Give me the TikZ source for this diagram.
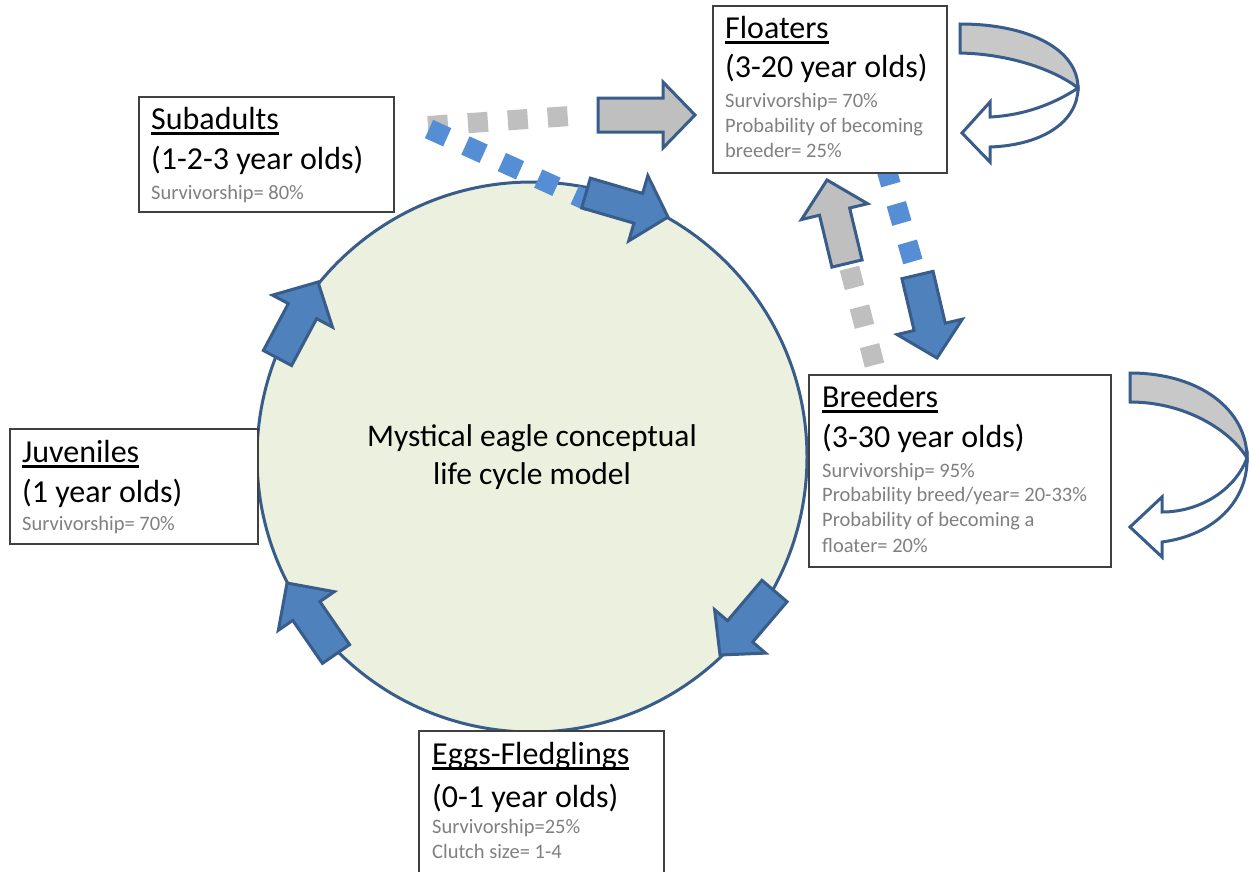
\documentclass[tikz,border=0pt]{standalone}
\usepackage{fontspec}
\setmainfont{Carlito}
\usetikzlibrary{calc}
\definecolor{edgeblue}{HTML}{385D8A}
\definecolor{fillblue}{HTML}{4F81BD}
\definecolor{dotblue}{HTML}{558ED5}
\definecolor{lgray}{HTML}{BFBFBF}
\definecolor{bandgray}{HTML}{C8C8C8}
\definecolor{circfill}{HTML}{EBF1DE}
\definecolor{txtgray}{HTML}{808080}
\definecolor{boxline}{HTML}{404040}
\newcommand\ulttl[1]{\setbox0=\hbox{#1}\rlap{\rule[-5.5pt]{\wd0}{2.2pt}}\box0}
\newcommand\barrow[6]{%
  \coordinate (ba) at (#1); \coordinate (bb) at (#2);
  \coordinate (bh) at ($(bb)!#5pt!(ba)$);
  \draw[#6] ($(ba)!#3pt!90:(bb)$) -- ($(bh)!#3pt!90:(bb)$) -- ($(bh)!#4pt!90:(bb)$) -- (bb)
     -- ($(bh)!#4pt!-90:(bb)$) -- ($(bh)!#3pt!-90:(bb)$) -- ($(ba)!#3pt!-90:(bb)$) -- cycle;}
\tikzset{
  blk/.style={draw=edgeblue, line width=3pt, fill=fillblue},
  gblk/.style={draw=edgeblue, line width=3pt, fill=lgray},
  box/.style={draw=boxline, line width=1.5pt, fill=white, anchor=north west, inner sep=0pt},
  ttl/.style={anchor=base west, inner sep=0pt, font=\fontsize{32}{38}\selectfont},
  sub/.style={anchor=base west, inner sep=0pt, text=txtgray, font=\fontsize{20.5}{25}\selectfont},
  gdots/.style={draw=lgray, line width=20pt, dash pattern=on 20pt off 20pt},
  bdots/.style={draw=dotblue, line width=20pt, dash pattern=on 20pt off 20pt},
  loopband/.style={draw=edgeblue, line width=3pt, fill=bandgray},
  loopfront/.style={draw=edgeblue, line width=3pt, fill=white},
}
\begin{document}
\begin{tikzpicture}[x=1pt,y=-1pt]
\useasboundingbox (0,0) rectangle (1250,871);
\fill[white] (0,0) rectangle (1250,871);
\clip (0,0) rectangle (1250,871);

% circle
\node[draw=edgeblue, line width=3pt, fill=circfill, circle, minimum size=550pt, inner sep=0pt,
      align=center, font=\fontsize{31.5}{38}\selectfont] (model) at (532,457)
      {Mystical eagle conceptual\\life cycle model};

% dotted lines
\coordinate (gd1) at (428,126); \coordinate (gd2) at (570,116);
\draw[gdots] (gd1) -- (gd2);
\coordinate (bd1) at (429,129); \coordinate (bd2) at (590,202);
\draw[bdots] (bd1) -- (bd2);
\coordinate (bd3) at (885.3,165.4); \coordinate (bd4) at (913,262);
\draw[bdots] (bd3) -- (bd4);
\coordinate (gd3) at (874.5,365); \coordinate (gd4) at (849.4,268);
\draw[gdots] (gd3) -- (gd4);

% arrows around the circle
\barrow{586,193}{668,217}{15.5}{34}{31}{blk}
\barrow{277.5,358}{318,282}{16}{34}{33}{blk}
\barrow{336,654}{287,583}{16.5}{34}{34}{blk}
\barrow{774.5,591}{720,655}{16.5}{33.5}{31}{blk}
% arrows between floaters and others
\barrow{598,115}{695,115}{17}{33}{32}{gblk}
\barrow{847,263.5}{827,180}{15.5}{34}{32.5}{gblk}
\barrow{917.5,275}{937,358}{16}{33.5}{32}{blk}

% boxes
\node[box, minimum width=255pt, minimum height=115pt] (subadults) at (138,96) {};
\node[box, minimum width=234pt, minimum height=167pt] (floaters) at (712,5) {};
\node[box, minimum width=302pt, minimum height=192pt] (breeders) at (808,374) {};
\node[box, minimum width=248pt, minimum height=115pt] (juveniles) at (9,428) {};
\node[box, minimum width=245pt, minimum height=160pt] (eggs) at (418,730) {};

% texts
\node[ttl] (subT) at (151,129) {\ulttl{Subadults}};
\node[ttl] (subA) at (151,169) {(1-2-3 year olds)};
\node[sub] (subS) at (151,199) {Survivorship= 80\%};

\node[ttl] (floT) at (725,38) {\ulttl{Floaters}};
\node[ttl] (floA) at (725,77) {(3-20 year olds)};
\node[sub] (floS1) at (725,107) {Survivorship= 70\%};
\node[sub] (floS2) at (725,132) {Probability of becoming};
\node[sub] (floS3) at (725,157) {breeder= 25\%};

\node[ttl] (breT) at (822,407) {\ulttl{Breeders}};
\node[ttl] (breA) at (822,447) {(3-30 year olds)};
\node[sub] (breS1) at (822,477) {Survivorship= 95\%};
\node[sub] (breS2) at (822,501) {Probability breed/year= 20-33\%};
\node[sub] (breS3) at (822,526) {Probability of becoming a};
\node[sub] (breS4) at (822,552) {floater= 20\%};

\node[ttl] (juvT) at (22,462) {\ulttl{Juveniles}};
\node[ttl] (juvA) at (22,502) {(1 year olds)};
\node[sub] (juvS) at (22,530) {Survivorship= 70\%};

\node[ttl] (eggT) at (432,764) {\ulttl{Eggs-Fledglings}};
\node[ttl] (eggA) at (432,807) {(0-1 year olds)};
\node[sub] (eggS1) at (432,833) {Survivorship=25\%};
\node[sub] (eggS2) at (432,858) {Clutch size= 1-4};

% self loops
\draw[loopband] (960,24) .. controls (1030,24) and (1078,50) .. (1078,88)
   .. controls (1055,70) and (1010,54) .. (960,53) -- cycle;
\draw[loopfront] (1078,88) .. controls (1060,100) and (1030,115) .. (990,117) -- (990,102) -- (962,133)
   -- (990,162) -- (990,147) .. controls (1045,145) and (1078,120) .. (1078,88) -- cycle;

\draw[loopband] (1130,373) .. controls (1200,373) and (1247,410) .. (1247,458)
   .. controls (1230,430) and (1185,402) .. (1130,402) -- cycle;
\draw[loopfront] (1247,458) .. controls (1235,490) and (1200,512) .. (1162,512) -- (1162,497) -- (1130,527)
   -- (1162,557) -- (1162,542) .. controls (1215,535) and (1248,500) .. (1247,458) -- cycle;
\end{tikzpicture}
\end{document}
